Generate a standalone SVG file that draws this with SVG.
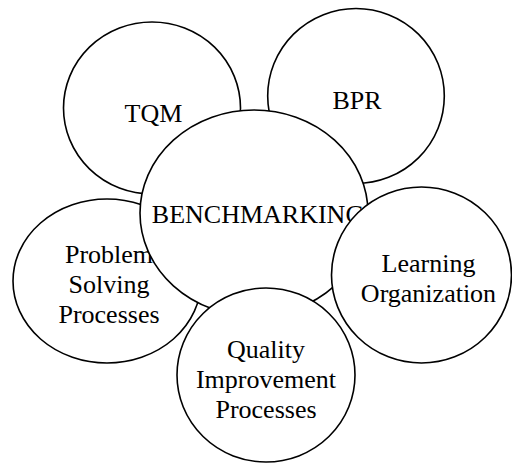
<svg xmlns="http://www.w3.org/2000/svg" width="512" height="463" viewBox="0 0 512 463">
<style>
.c{fill:#fff;stroke:#000;stroke-width:1.6}
.t{font-family:"Liberation Serif","Times New Roman",serif;font-size:26px;fill:#000;text-anchor:middle}
</style>
<rect width="512" height="463" fill="#fff"/>
<g id="tqm"><ellipse class="c" cx="152" cy="108" rx="88.5" ry="86"/><text class="t" x="153.5" y="121.5">TQM</text></g>
<g id="bpr"><ellipse class="c" cx="356" cy="96" rx="88.3" ry="87.5"/><text class="t" x="357" y="109">BPR</text></g>
<g id="problem"><ellipse class="c" cx="107" cy="281" rx="94" ry="82"/><text class="t" x="109" y="263">Problem</text><text class="t" x="109" y="293">Solving</text><text class="t" x="109" y="323">Processes</text></g>
<g id="benchmarking"><ellipse class="c" cx="254" cy="213" rx="114" ry="103"/><text class="t" x="258" y="222.5">BENCHMARKING</text></g>
<g id="quality"><ellipse class="c" cx="266" cy="375" rx="89" ry="87"/><text class="t" x="266" y="358">Quality</text><text class="t" x="266" y="388">Improvement</text><text class="t" x="266" y="418">Processes</text></g>
<g id="learning"><ellipse class="c" cx="421.5" cy="275" rx="90" ry="88"/><text class="t" x="428.5" y="271.5">Learning</text><text class="t" x="428.5" y="301.5">Organization</text></g>
<g id="connectors"></g>
</svg>
